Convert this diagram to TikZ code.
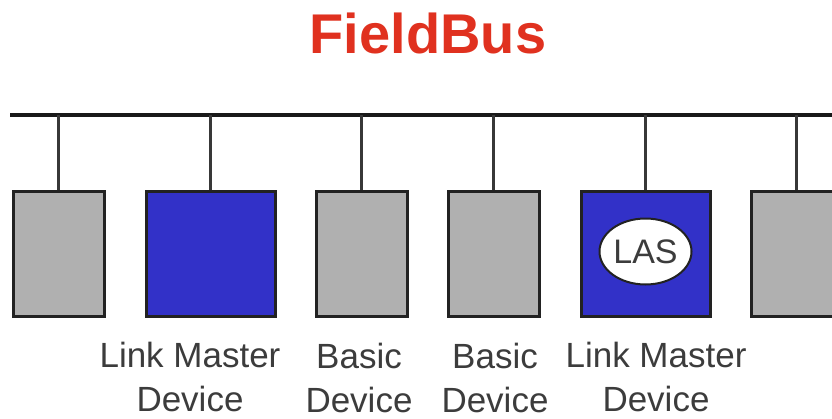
\documentclass[tikz,border=0pt]{standalone}
\usepackage{fontspec}
\setmainfont{Liberation Sans}
\usetikzlibrary{shapes.geometric}
\definecolor{busred}{HTML}{E0311F}
\definecolor{devgray}{HTML}{B0B0B0}
\definecolor{devblue}{HTML}{3231C8}
\definecolor{edge}{HTML}{222222}
\definecolor{labeltext}{HTML}{3C3C3C}
\begin{document}
\begin{tikzpicture}[x=1pt,y=-1pt,
  device/.style={draw=edge, line width=3pt, minimum height=125pt, inner sep=0pt, anchor=north west},
  basicdev/.style={device, fill=devgray, minimum width=91pt},
  masterdev/.style={device, fill=devblue, minimum width=129pt},
  drop/.style={draw=edge!90!white, line width=3.2pt},
  devlabel/.style={align=center, text=labeltext, inner sep=0pt, anchor=base,
    font=\fontsize{35}{44}\selectfont}]
  \useasboundingbox (0,0) rectangle (832,418);

  % title
  \node[text=busred, font=\fontsize{56}{60}\selectfont\bfseries, anchor=base] (title) at (428,53) {FieldBus};

  % bus line
  \coordinate (busL) at (10,115);
  \coordinate (busR) at (840,115);
  \draw[line width=4.5pt, draw=black!90] (busL) -- (busR);

  % devices
  \node[basicdev]  (d1) at (11.5,189.5)  {};
  \node[masterdev] (d2) at (144.5,189.5) {};
  \node[basicdev]  (d3) at (314.5,189.5) {};
  \node[basicdev]  (d4) at (446.5,189.5) {};
  \node[masterdev] (d5) at (579.5,189.5) {};
  \node[basicdev]  (d6) at (749.5,189.5) {};

  % drops from the bus
  \foreach \d in {d1,d2,d3,d4,d5,d6}
    \draw[drop] (\d.north |- busL) -- (\d.north);

  % link active scheduler
  \node[ellipse, draw=edge, line width=2pt, fill=white, minimum width=92pt, minimum height=66pt,
        inner sep=0pt, text=labeltext, font=\fontsize{34}{40}\selectfont] (las) at ([yshift=2pt]d5.center) {LAS};

  % labels
  \node[devlabel] (l2) at (190,411) {Link Master\\Device};
  \node[devlabel] (l3) at (359,412) {Basic\\Device};
  \node[devlabel] (l4) at (495,412) {Basic\\Device};
  \node[devlabel] (l5) at (656,411) {Link Master\\Device};
\end{tikzpicture}
\end{document}
